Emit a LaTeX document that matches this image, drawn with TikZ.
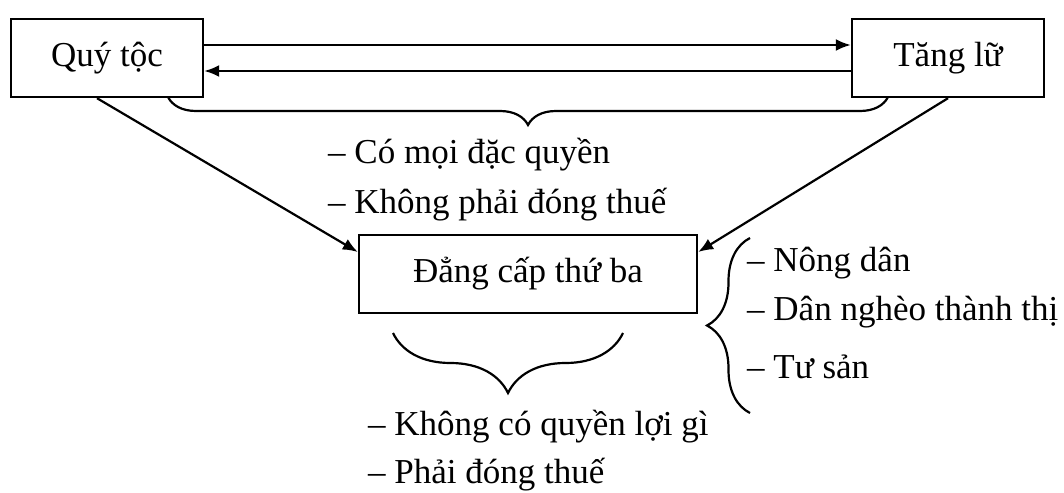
\documentclass[tikz,border=0pt]{standalone}
\usepackage{fontspec}
\setmainfont{Liberation Serif}
\usetikzlibrary{arrows.meta,decorations.pathreplacing,positioning}
\tikzset{
  khung/.style={draw,line width=2.4pt,minimum width=192pt,minimum height=78pt,inner sep=0pt,font=\fontsize{35}{40}\selectfont},
  muiten/.style={line width=2.2pt,-{Latex[length=15pt,width=12pt]}},
  ngoac/.style={line width=2.2pt,decorate,decoration={brace,amplitude=#1}},
  chu/.style={anchor=west,inner sep=0pt,font=\fontsize{35}{40}\selectfont}
}

\begin{document}
\begin{tikzpicture}[x=1pt,y=-1pt]
\useasboundingbox (0,0) rectangle (1064,492);
%\draw[help lines,step=50] (0,0) grid (1064,492);
\node[khung] (quy) at (107,58) {Quý tộc};
\node[khung] (tang) at (948,58) {Tăng lữ};
\node[khung,minimum width=338pt] (dang) at (528,274) {Đẳng cấp thứ ba};
\draw[muiten] ([yshift=13pt]quy.east) -- ([yshift=13pt]tang.west);
\draw[muiten] ([yshift=-13pt]tang.west) -- ([yshift=-13pt]quy.east);
\draw[muiten] ([xshift=-10pt]quy.south) -- ([yshift=22pt]dang.west);
\draw[muiten] (tang.south) -- ([yshift=22pt]dang.east);
%\fill (528,125) circle[radius=3pt];
\coordinate (b1) at (888,97);
\coordinate (b2) at (168,97);
\draw[ngoac=28pt] (b1) -- (b2);
\coordinate (b3) at (623,333);
\coordinate (b4) at (393,333);
\draw[ngoac=60pt] (b3) -- (b4);
\coordinate (b5) at (750,413);
\coordinate (b6) at (750,238);
\draw[ngoac=43pt] (b5) -- (b6);
\node[chu] (dq) at (328,155) {– Có mọi đặc quyền};
\node[chu] (kt) at (328,205) {– Không phải đóng thuế};
\node[chu] (nd) at (747,263) {– Nông dân};
\node[chu] (dn) at (747,312) {– Dân nghèo thành thị};
\node[chu] (ts) at (747,367) {– Tư sản};
\node[chu] (kq) at (368,427) {– Không có quyền lợi gì};
\node[chu] (pt) at (368,475) {– Phải đóng thuế};
\end{tikzpicture}
\end{document}
